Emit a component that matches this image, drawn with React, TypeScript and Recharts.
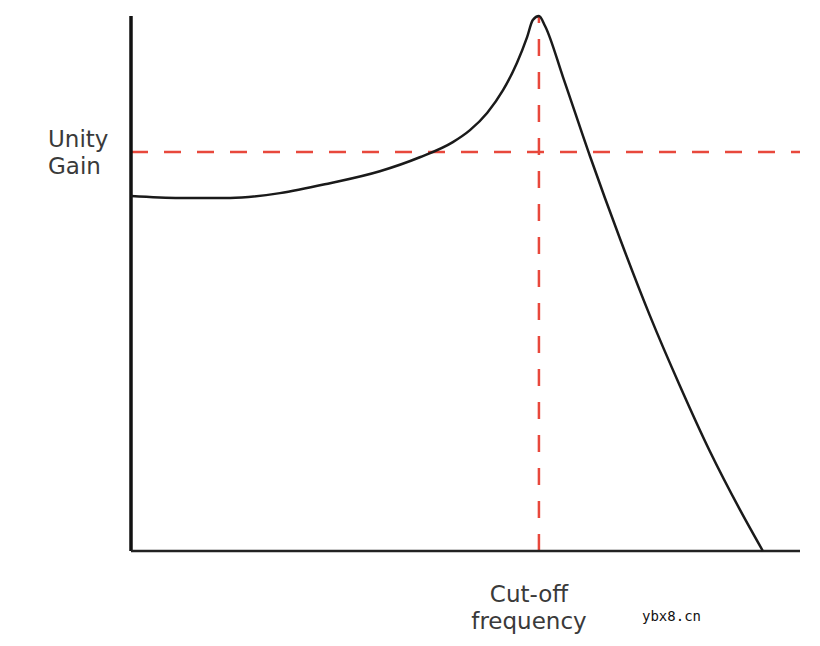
import { LineChart, Line, XAxis, YAxis, ReferenceLine, Label } from "recharts";
import { ReactElement } from "react";

// normalised frequency (1 = cut-off) and gain (1 = unity)
const freq = [
  0, 0.12, 0.243, 0.365, 0.488, 0.61, 0.708, 0.789, 0.831, 0.873, 0.912, 0.946,
  0.971, 0.985, 1.0, 1.015, 1.059, 1.125, 1.199, 1.272, 1.346, 1.419, 1.493,
  1.549,
];
const gain = [
  0.89, 0.885, 0.885, 0.897, 0.922, 0.952, 0.987, 1.025, 1.055, 1.098, 1.155,
  1.223, 1.288, 1.331, 1.341, 1.316, 1.188, 0.99, 0.782, 0.59, 0.413, 0.25,
  0.103, 0,
];

const yLabel = ["Unity", "Gain"];
const xLabel = ["Cut-off", "frequency"];
const watermark = "ybx8.cn";

const RED = "#e8483c";
const FONT = "DejaVu Sans";

export const App = (): ReactElement => {
  const data = freq.map((f, i) => ({ f, g: gain[i] }));

  return (
    <div style={{ position: "absolute", left: 0, top: 0, background: "#fff" }}>
      <LineChart
        width={820}
        height={646}
        data={data}
        margin={{ top: 16, right: 20, left: 131, bottom: 95 }}
      >
        <XAxis dataKey="f" type="number" domain={[0, 1.64]} hide />
        <YAxis type="number" domain={[0, 1.341]} hide />
        <ReferenceLine
          y={1}
          stroke={RED}
          strokeWidth={2.5}
          strokeDasharray="17 16"
        >
          <Label
            content={() => (
              <text fontFamily={FONT} fontSize={23} fill="#3a3a3a">
                <tspan x={48} y={147}>
                  {yLabel[0]}
                </tspan>
                <tspan x={48} y={174}>
                  {yLabel[1]}
                </tspan>
              </text>
            )}
          />
        </ReferenceLine>
        <ReferenceLine
          x={1}
          stroke={RED}
          strokeWidth={2.5}
          strokeDasharray="17 16"
        >
          <Label
            content={() => (
              <g>
                <text
                  textAnchor="middle"
                  fontFamily={FONT}
                  fontSize={23}
                  fill="#3a3a3a"
                >
                  <tspan x={529} y={602}>
                    {xLabel[0]}
                  </tspan>
                  <tspan x={529} y={629}>
                    {xLabel[1]}
                  </tspan>
                </text>
                <text
                  x={642}
                  y={621}
                  fontFamily="DejaVu Sans Mono"
                  fontSize={14}
                  fill="#111"
                >
                  {watermark}
                </text>
              </g>
            )}
          />
        </ReferenceLine>
        <ReferenceLine x={0} stroke="#111" strokeWidth={3.5} />
        <ReferenceLine y={0} stroke="#222" strokeWidth={2.5} />
        <Line
          dataKey="g"
          type="monotone"
          stroke="#1a1a1a"
          strokeWidth={2.5}
          dot={false}
          isAnimationActive={false}
        />
      </LineChart>
    </div>
  );
};

export default App;
